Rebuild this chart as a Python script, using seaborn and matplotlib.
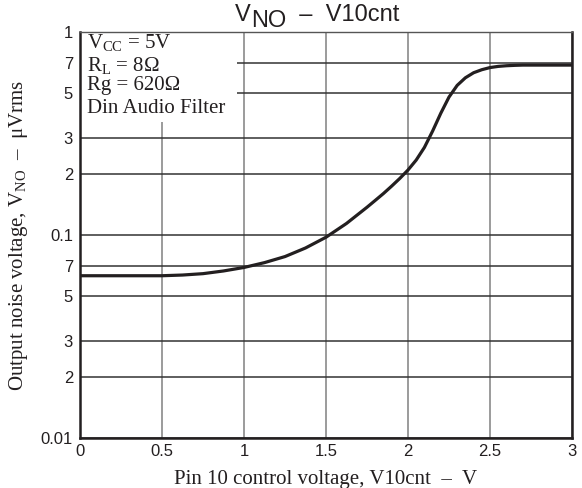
import matplotlib
matplotlib.use("Agg")
import matplotlib.pyplot as plt
import seaborn as sns
import pandas as pd
from matplotlib.patches import Rectangle
from matplotlib.ticker import FixedLocator, NullLocator

# curve
v10cnt = [0.0, 0.25, 0.5, 0.625, 0.75, 0.875, 1.0, 1.125, 1.25, 1.375, 1.5, 1.625, 1.75,
          1.8, 1.85, 1.9, 1.95, 2.0, 2.05, 2.1, 2.15, 2.2, 2.25, 2.3, 2.35, 2.4, 2.45,
          2.5, 2.55, 2.6, 2.65, 2.7, 3.0]
vno = [0.063, 0.063, 0.063, 0.0635, 0.0645, 0.0665, 0.0692, 0.0731, 0.0783, 0.0863, 0.0975,
       0.114, 0.137, 0.148, 0.160, 0.174, 0.190, 0.209, 0.234, 0.270, 0.325, 0.398, 0.478,
       0.546, 0.595, 0.630, 0.652, 0.668, 0.677, 0.682, 0.685, 0.687, 0.687]

x_ticks = [0, 0.5, 1, 1.5, 2, 2.5, 3]
x_labels = ["0", "0.5", "1", "1.5", "2", "2.5", "3"]
y_ticks = [0.01, 0.02, 0.03, 0.05, 0.07, 0.1, 0.2, 0.3, 0.5, 0.7, 1]
y_labels = ["0.01", "2", "3", "5", "7", "0.1", "2", "3", "5", "7", "1"]

conditions = [r"$\mathrm{V_{CC}}$ = 5V", r"$\mathrm{R_{L}}$ = 8Ω", "Rg = 620Ω", "Din Audio Filter"]

sns.set_theme(style="white")
plt.rcParams["font.family"] = ["Liberation Sans", "DejaVu Sans"]
plt.rcParams["mathtext.fontset"] = "custom"
plt.rcParams["mathtext.rm"] = "Liberation Serif"
plt.rcParams["mathtext.it"] = "Liberation Serif:italic"

df = pd.DataFrame({"x": v10cnt, "y": vno})

fig = plt.figure(figsize=(5.82, 4.88), dpi=100)
ax = fig.add_axes([80 / 582, 1 - 438 / 488, 492 / 582, 406 / 488])

sns.lineplot(data=df, x="x", y="y", ax=ax, color="#231f20", linewidth=2.3, zorder=3)
ax.set_yscale("log")
ax.set_xlim(0, 3)
ax.set_ylim(0.01, 1)

ax.xaxis.set_major_locator(FixedLocator(x_ticks))
ax.set_xticklabels(x_labels)
ax.yaxis.set_major_locator(FixedLocator(y_ticks))
ax.yaxis.set_minor_locator(NullLocator())
ax.set_yticklabels(y_labels)
ax.tick_params(axis="both", length=0, labelsize=12, colors="#231f20")
ax.tick_params(axis="x", pad=4)
ax.tick_params(axis="y", pad=5)

ax.set_axisbelow(True)
ax.xaxis.grid(True, color="#808080", linewidth=1.1)
ax.yaxis.grid(True, color="#333333", linewidth=1.1)

for side in ["left", "bottom", "right"]:
    ax.spines[side].set_color("#231f20")
    ax.spines[side].set_linewidth(1.8)
ax.spines["top"].set_color("#555555")
ax.spines["top"].set_linewidth(1.0)

# white panel behind the test conditions
ax.add_patch(Rectangle((0, 0.778), 0.319, 0.222, transform=ax.transAxes,
                       facecolor="white", edgecolor="none", zorder=1))
for txt, yy in zip(conditions, [0.9606, 0.904, 0.857, 0.800]):
    ax.text(0.014, yy, txt, transform=ax.transAxes, va="baseline", ha="left",
            fontsize=15, family="Liberation Serif", color="#231f20", zorder=4)

ax.set_xlabel("Pin 10 control voltage, V10cnt  –  V", family="Liberation Serif",
              fontsize=15, color="#231f20", labelpad=8)
ax.set_ylabel(r"Output noise voltage, V$\mathrm{_{NO}}$  –  μVrms", family="Liberation Serif",
              fontsize=15, color="#231f20", labelpad=8)

# title built in pieces so the subscript keeps full size
t1 = fig.text(235 / 582, 1 - 20.7 / 488, "V", fontsize=17, va="baseline", ha="left", color="#231f20")
t2 = ax.annotate("NO", xy=(1, 0), xycoords=t1, xytext=(0, -4.5), textcoords="offset points",
                 fontsize=17, va="bottom", ha="left", color="#231f20", annotation_clip=False)
t3 = ax.annotate("  –  V10cnt", xy=(1, 0), xycoords=t2, xytext=(0, 4.5), textcoords="offset points",
                 fontsize=17, va="bottom", ha="left", color="#231f20", annotation_clip=False)

fig.savefig("out.png", dpi=100)
